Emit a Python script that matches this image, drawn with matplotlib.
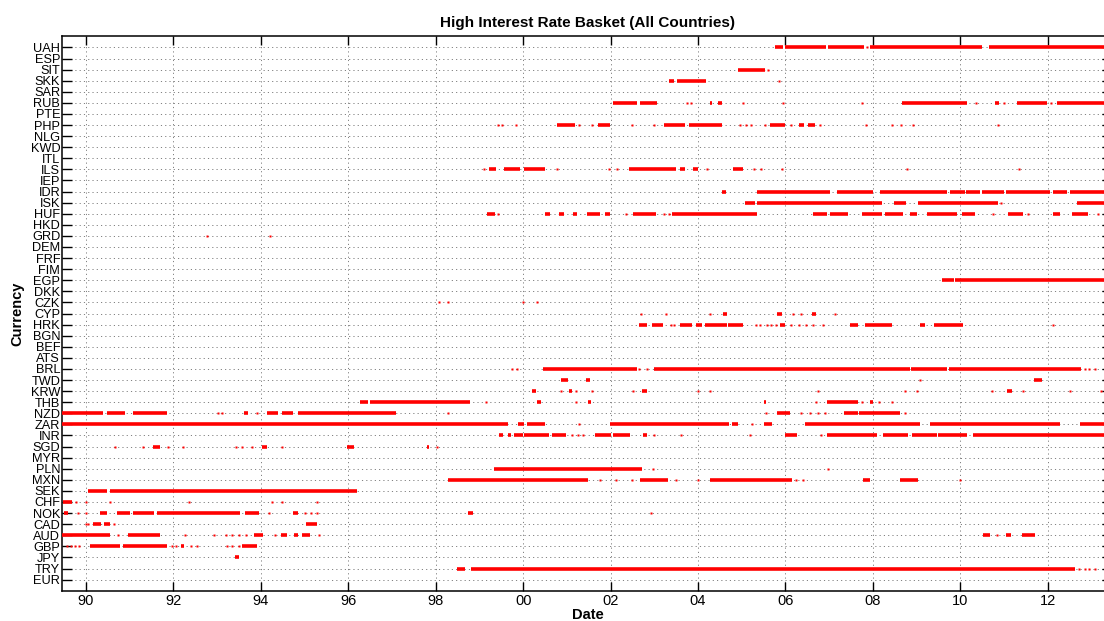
import matplotlib.pyplot as plt

plt.rcParams['font.family'] = ['Liberation Sans', 'DejaVu Sans']

# currencies from top row to bottom row
currencies = ['UAH', 'ESP', 'SIT', 'SKK', 'SAR', 'RUB', 'PTE', 'PHP', 'NLG', 'KWD',
              'ITL', 'ILS', 'IEP', 'IDR', 'ISK', 'HUF', 'HKD', 'GRD', 'DEM', 'FRF',
              'FIM', 'EGP', 'DKK', 'CZK', 'CYP', 'HRK', 'BGN', 'BEF', 'ATS', 'BRL',
              'TWD', 'KRW', 'THB', 'NZD', 'ZAR', 'INR', 'SGD', 'MYR', 'PLN', 'MXN',
              'SEK', 'CHF', 'NOK', 'CAD', 'AUD', 'GBP', 'JPY', 'TRY', 'EUR']

# basket membership: (start, end) = in basket over a period,
# single number = isolated day in basket (decimal years)
uah = [(2005.76, 2005.95), (2005.99, 2006.93), (2006.98, 2007.80), 2007.86,
       (2007.93, 2010.50), (2010.66, 2013.47)]
sit = [(2004.92, 2005.53), 2005.60]
skk = [(2003.34, 2003.45), (2003.52, 2004.18), 2005.85]
rub = [(2002.06, 2002.60), (2002.67, 2003.06), 2003.75, 2003.85, (2004.28, 2004.33),
       (2004.45, 2004.55), 2005.02, 2005.94, 2007.75, (2008.66, 2010.15), 2010.35,
       (2010.80, 2010.88), 2011.00, (2011.29, 2011.98), 2012.08, (2012.21, 2013.47)]
php = [1999.42, 1999.52, 1999.83, (2000.77, 2001.19), 2001.28, 2001.58,
       (2001.71, 2001.99), 2002.49, 2002.99, (2003.23, 2003.70), (2003.79, 2004.54),
       2004.96, 2005.10, 2005.22, 2005.53, (2005.65, 2005.99), 2006.13,
       (2006.30, 2006.42), (2006.52, 2006.68), 2006.80, 2007.84, 2008.43, 2008.64,
       2008.91, 2010.87]
ils = [1999.11, (1999.23, 1999.39), (1999.57, 1999.93), (2000.01, 2000.50), 2000.77,
       2001.97, 2002.14, (2002.43, 2003.49), (2003.59, 2003.70), (2003.89, 2004.00),
       2004.20, (2004.81, 2005.04), 2005.28, 2005.43, 2005.93, 2008.77, 2011.35]
idr = [(2004.56, 2004.64), (2005.34, 2007.02), (2007.17, 2008.01), (2008.16, 2009.69),
       (2009.77, 2010.10), (2010.14, 2010.45), (2010.50, 2011.00), (2011.05, 2012.05),
       (2012.12, 2012.45), (2012.50, 2013.47)]
isk = [(2005.08, 2005.30), (2005.34, 2008.20), (2008.49, 2008.75), (2009.04, 2010.87),
       2010.93, (2012.66, 2013.47)]
huf = [(1999.18, 1999.36), 1999.43, (2000.50, 2000.61), (2000.83, 2000.94),
       (2001.13, 2001.24), (2001.47, 2001.76), (2001.87, 2001.99), 2002.35,
       (2002.52, 2003.04), 2003.23, 2003.33, (2003.40, 2005.34), (2006.64, 2006.95),
       (2007.02, 2007.44), (2007.75, 2008.20), (2008.28, 2008.70), (2008.86, 2009.01),
       (2009.23, 2009.92), (2010.03, 2010.34), 2010.75, (2011.10, 2011.44), 2011.55,
       (2012.11, 2012.28), (2012.55, 2012.93), 2013.15]
grd = [1992.76, 1994.22]
egp = [(2009.58, 2009.85), (2009.88, 2013.47)]
czk = [1998.08, 1998.27, 1999.99, 2000.31]
cyp = [2002.70, 2003.27, 2004.28, (2004.58, 2004.66), (2005.80, 2005.91), 2006.18,
       2006.36, (2006.60, 2006.71), 2007.14]
hrk = [(2002.66, 2002.83), (2002.94, 2003.20), 2003.38, 2003.46, (2003.59, 2003.86),
       (2003.95, 2004.10), (2004.16, 2004.66), (2004.69, 2005.04), 2005.33, 2005.42,
       2005.57, 2005.68, 2005.78, (2005.88, 2005.99), 2006.13, 2006.30, 2006.48,
       2006.62, 2006.86, (2007.48, 2007.67), (2007.82, 2008.43), (2009.08, 2009.20),
       (2009.40, 2010.07), 2012.11]
brl = [1999.74, 1999.85, (2000.46, 2002.60), 2002.66, 2002.83, (2002.99, 2008.84),
       (2008.87, 2009.70), (2009.74, 2012.75), 2012.85, 2012.95, 2013.08]
twd = [(2000.87, 2001.02), (2001.44, 2001.53), 2009.08, (2011.69, 2011.86)]
krw = [(2000.20, 2000.29), 2000.87, (2001.05, 2001.12), 2001.22, 2001.57, 2002.52,
       (2002.71, 2002.83), 2003.99, 2004.27, 2006.75, 2008.74, 2009.00, 2010.72,
       (2011.07, 2011.19), 2011.43, 2012.52, 2013.22]
thb = [(1996.27, 1996.45), (1996.50, 1998.78), 1999.14, (2000.31, 2000.42), 2001.22,
       (2001.48, 2001.56), (2005.50, 2005.56), 2006.70, (2006.94, 2007.67), 2007.76,
       (2007.94, 2008.01), 2008.14, 2008.44]
nzd = [(1989.46, 1990.40), (1990.48, 1990.90), (1991.07, 1991.85), 1993.02, 1993.12,
       (1993.62, 1993.70), 1993.92, (1994.13, 1994.40), (1994.48, 1994.74),
       (1994.85, 1997.09), 1998.27, 2005.56, (2005.80, 2006.11), 2006.36, 2006.57,
       2006.75, 2006.90, (2007.35, 2007.67), (2007.68, 2008.62), 2008.74]
zar = [(1989.46, 1999.66), (1999.89, 2000.02), (2000.08, 2000.50), 2001.28,
       (2001.99, 2004.70), (2004.77, 2004.92), 2005.23, (2005.50, 2005.69),
       (2006.45, 2009.08), (2009.31, 2012.28), (2012.74, 2013.47)]
inr = [(1999.45, 1999.55), (1999.65, 1999.72), (1999.80, 2000.00), (2000.02, 2000.60),
       (2000.65, 2000.98), 2001.12, 2001.25, 2001.37, (2001.65, 2002.00),
       (2002.05, 2002.45), (2002.75, 2002.83), 2002.99, 2003.60, 2005.19,
       (2005.99, 2006.26), 2006.81, (2006.94, 2008.09), (2008.24, 2008.80),
       (2008.90, 2009.46), (2009.50, 2010.15), (2010.30, 2013.47)]
sgd = [1990.66, 1991.31, (1991.54, 1991.69), 1991.87, 1992.21, 1993.43, 1993.58,
       1993.79, (1994.02, 1994.13), 1994.48, (1995.96, 1996.12), (1997.79, 1997.85),
       1998.02]
pln = [(1999.34, 1999.43), (1999.43, 2002.71), 2002.98, 2006.98]
mxn = [(1998.27, 2001.49), 2001.75, 2002.12, 2002.48, (2002.67, 2003.32), 2003.49,
       2003.99, (2004.28, 2006.14), 2006.25, 2006.40, (2007.78, 2007.94),
       (2008.62, 2009.04), 2009.99]
sek = [(1990.05, 1990.47), (1990.55, 1996.19)]
chf = [(1989.47, 1989.68), 1989.78, 1990.00, 1990.55, 1992.36, 1994.25, 1994.48,
       1995.28]
nok = [(1989.50, 1989.60), 1989.82, 1990.00, (1990.33, 1990.47), (1990.70, 1991.00),
       (1991.07, 1991.55), (1991.62, 1993.52), (1993.64, 1993.95), 1994.18,
       (1994.74, 1994.85), 1995.00, 1995.15, 1995.28, (1998.75, 1998.85), 2002.93]
cad = [1990.00, 1990.05, (1990.17, 1990.35), (1990.42, 1990.55), 1990.64,
       (1995.03, 1995.28)]
aud = [(1989.46, 1990.55), 1990.74, (1990.97, 1991.69), 1992.27, 1992.92, 1993.20,
       1993.35, 1993.50, 1993.65, (1993.85, 1994.06), 1994.32, (1994.45, 1994.60),
       (1994.75, 1994.85), (1994.95, 1995.12), 1995.32, (2010.53, 2010.68), 2010.85,
       (2011.05, 2011.15), (2011.40, 2011.71)]
gbp = [1989.56, 1989.65, 1989.75, 1989.85, (1990.09, 1990.78), (1990.85, 1991.85),
       1991.96, 1992.07, (1992.17, 1992.25), 1992.40, 1992.53, 1993.22, 1993.35,
       1993.50, (1993.58, 1993.91)]
jpy = [(1993.41, 1993.51)]
try_ = [(1998.48, 1998.67), (1998.81, 2012.63), 2012.72, 2012.85, 2012.95, 2013.08]

basket = {'UAH': uah, 'SIT': sit, 'SKK': skk, 'RUB': rub, 'PHP': php, 'ILS': ils,
          'IDR': idr, 'ISK': isk, 'HUF': huf, 'GRD': grd, 'EGP': egp, 'CZK': czk,
          'CYP': cyp, 'HRK': hrk, 'BRL': brl, 'TWD': twd, 'KRW': krw, 'THB': thb,
          'NZD': nzd, 'ZAR': zar, 'INR': inr, 'SGD': sgd, 'PLN': pln, 'MXN': mxn,
          'SEK': sek, 'CHF': chf, 'NOK': nok, 'CAD': cad, 'AUD': aud, 'GBP': gbp,
          'JPY': jpy, 'TRY': try_}

years = list(range(1990, 2013, 2))

fig = plt.figure(figsize=(11.04, 6.21), dpi=100)
ax = fig.add_axes([0.0564, 0.0488, 0.9509, 0.8927])

n = len(currencies)
for i, code in enumerate(currencies):
    y = n - i
    for item in basket.get(code, []):
        if isinstance(item, tuple):
            ax.hlines(y, item[0], item[1], color='red', lw=2.6, zorder=3)
        else:
            ax.plot([item], [y], 's', color='red', ms=2.1, mec='none', zorder=3)

ax.set_xlim(1989.458, 2013.471)
ax.set_ylim(0, n + 1)
ax.set_xticks(years)
ax.set_xticklabels([f'{yr % 100:02d}' for yr in years], fontsize=10.5)
ax.set_yticks(range(1, n + 1))
ax.set_yticklabels(currencies[::-1], fontsize=9.2)

ax.tick_params(axis='x', direction='in', length=6.5, width=1, top=True, pad=2.5)
ax.tick_params(axis='y', direction='in', length=7, width=1, right=True, pad=1.5)
ax.grid(True, linestyle=(0, (1.2, 3.2)), color='#808080', lw=0.7)
ax.set_axisbelow(True)
for s in ax.spines.values():
    s.set_linewidth(1.1)

ax.set_title('High Interest Rate Basket (All Countries)', fontsize=11,
             fontweight='bold', pad=6.9)
fig.text(587.5 / 1104, 1 - 615.2 / 621, 'Date', fontsize=10.5, fontweight='bold',
         ha='center', va='center')
fig.text(17.5 / 1104, 1 - 314 / 621, 'Currency', fontsize=10.5, fontweight='bold',
         rotation=90, ha='center', va='center')

plt.savefig('out.png', dpi=100)
